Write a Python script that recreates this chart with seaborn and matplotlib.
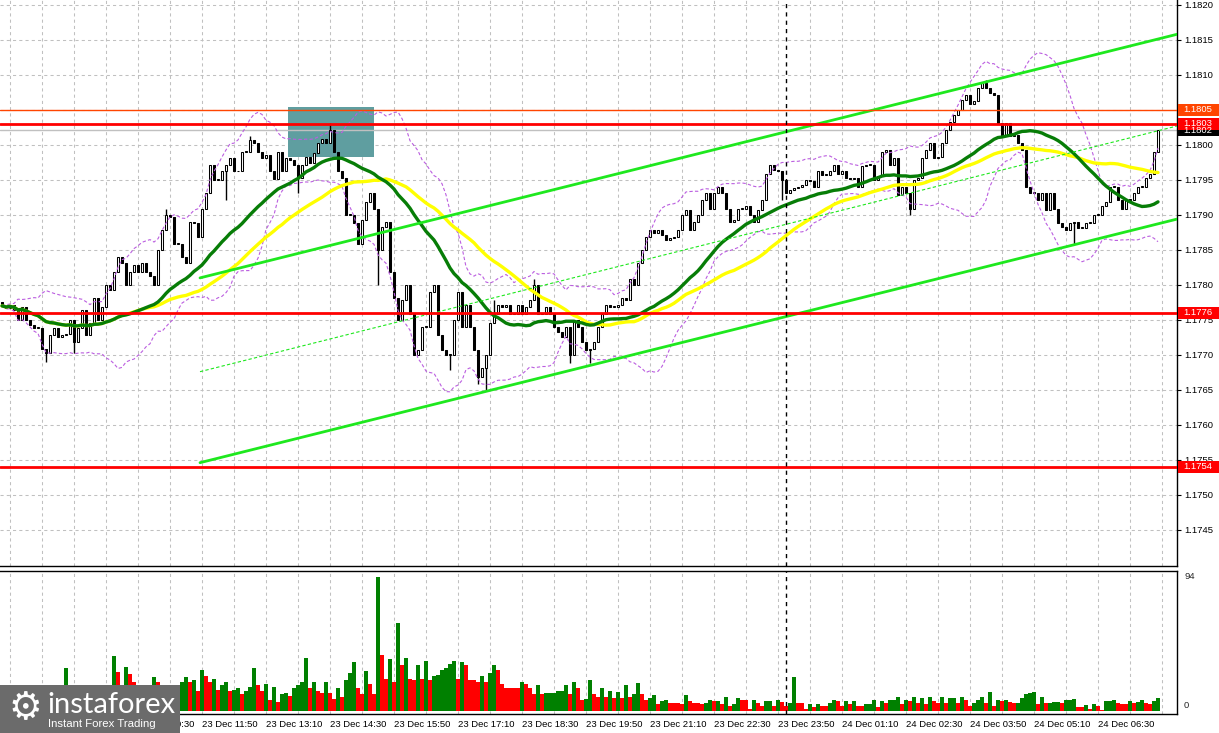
import numpy as np
import pandas as pd
import matplotlib
matplotlib.use("Agg")
import matplotlib.pyplot as plt
from matplotlib.patches import Rectangle
import seaborn as sns

# =========================================================
# STYLE
# =========================================================
sns.set_style("white")
plt.rcParams['font.family'] = ['Liberation Sans', 'DejaVu Sans']

# =========================================================
# DATA  (EUR/USD M5, 23 Dec 07:40 -> 24 Dec 07:45)
# =========================================================
first_open = 1.17775

closes = [
    1.17770, 1.17767, 1.17771, 1.17764, 1.17750, 1.17768, 1.17750, 1.17743, 1.17738, 1.17739,
    1.17709, 1.17702, 1.17729, 1.17738, 1.17726, 1.17728, 1.17730, 1.17750, 1.17719, 1.17739,
    1.17764, 1.17728, 1.17745, 1.17781, 1.17750, 1.17769, 1.17800, 1.17793, 1.17819, 1.17840,
    1.17831, 1.17800, 1.17819, 1.17828, 1.17819, 1.17831, 1.17819, 1.17812, 1.17800, 1.17850,
    1.17878, 1.17900, 1.17897, 1.17859, 1.17859, 1.17840, 1.17831, 1.17890, 1.17888, 1.17869,
    1.17909, 1.17931, 1.17971, 1.17950, 1.17950, 1.17962, 1.17971, 1.17981, 1.17962, 1.17962,
    1.17990, 1.17990, 1.18007, 1.18003, 1.17990, 1.17981, 1.17986, 1.17962, 1.17951, 1.17990,
    1.17962, 1.17981, 1.17978, 1.17971, 1.17952, 1.17971, 1.17983, 1.17974, 1.17988, 1.18002,
    1.18009, 1.18002, 1.18021, 1.17990, 1.17962, 1.17952, 1.17900, 1.17900, 1.17888, 1.17859,
    1.17893, 1.17919, 1.17931, 1.17909, 1.17850, 1.17883, 1.17890, 1.17819, 1.17781, 1.17750,
    1.17778, 1.17800, 1.17759, 1.17700, 1.17707, 1.17740, 1.17740, 1.17790, 1.17800, 1.17728,
    1.17707, 1.17700, 1.17700, 1.17750, 1.17790, 1.17740, 1.17771, 1.17740, 1.17707, 1.17669,
    1.17681, 1.17700, 1.17745, 1.17759, 1.17771, 1.17769, 1.17771, 1.17759, 1.17759, 1.17771,
    1.17759, 1.17769, 1.17778, 1.17800, 1.17759, 1.17759, 1.17769, 1.17759, 1.17740, 1.17733,
    1.17726, 1.17740, 1.17700, 1.17750, 1.17740, 1.17719, 1.17707, 1.17709, 1.17719, 1.17740,
    1.17759, 1.17771, 1.17769, 1.17769, 1.17771, 1.17781, 1.17778, 1.17809, 1.17800, 1.17831,
    1.17850, 1.17869, 1.17878, 1.17874, 1.17878, 1.17871, 1.17864, 1.17867, 1.17869, 1.17878,
    1.17900, 1.17907, 1.17878, 1.17890, 1.17900, 1.17921, 1.17931, 1.17909, 1.17931, 1.17940,
    1.17931, 1.17909, 1.17890, 1.17893, 1.17909, 1.17909, 1.17912, 1.17900, 1.17890, 1.17907,
    1.17921, 1.17959, 1.17971, 1.17964, 1.17962, 1.17950, 1.17931, 1.17936, 1.17938, 1.17940,
    1.17943, 1.17950, 1.17948, 1.17940, 1.17962, 1.17957, 1.17957, 1.17962, 1.17971, 1.17959,
    1.17962, 1.17952, 1.17951, 1.17952, 1.17940, 1.17970, 1.17971, 1.17971, 1.17950, 1.17955,
    1.17990, 1.17993, 1.17971, 1.17981, 1.17928, 1.17940, 1.17931, 1.17909, 1.17950, 1.17952,
    1.17981, 1.17993, 1.18002, 1.17981, 1.17983, 1.18002, 1.18021, 1.18033, 1.18043, 1.18050,
    1.18064, 1.18071, 1.18059, 1.18062, 1.18081, 1.18088, 1.18081, 1.18074, 1.18071, 1.18031,
    1.18012, 1.18031, 1.18012, 1.18014, 1.18002, 1.17993, 1.17940, 1.17931, 1.17931, 1.17921,
    1.17931, 1.17907, 1.17931, 1.17909, 1.17888, 1.17883, 1.17878, 1.17888, 1.17890, 1.17881,
    1.17881, 1.17888, 1.17888, 1.17900, 1.17900, 1.17912, 1.17919, 1.17940, 1.17940, 1.17921,
    1.17909, 1.17921, 1.17921, 1.17931, 1.17940, 1.17940, 1.17952, 1.17959, 1.17990, 1.18021,
]

# long wicks (bar index -> price)
wick_high = {41: 1.17909, 62: 1.18012, 82: 1.18031, 123: 1.17778, 133: 1.17809, 246: 1.18092}
wick_low = {11: 1.17690, 18: 1.17702, 56: 1.17921, 74: 1.17931, 94: 1.17800, 112: 1.17678,
            119: 1.17659, 121: 1.17650, 142: 1.17688, 147: 1.17688, 195: 1.17921,
            227: 1.17900, 268: 1.17859}

volumes = [
    9, 7, 10, 8, 11, 9, 12, 10, 8, 13,
    11, 9, 12, 10, 14, 12, 30.2, 17.9, 17.9, 12,
    17.9, 14, 12, 12, 13, 17.9, 15, 17.9, 38.7, 27.1,
    14, 31.1, 26.2, 20.6, 14, 12, 13, 12, 24.1, 20.0,
    17.9, 17.9, 15, 14, 16, 20.0, 24.1, 20.6, 22.0, 13.7,
    29.0, 24.8, 20.6, 22.7, 14.4, 17.9, 20.0, 13.7, 14.4, 15.8,
    11.6, 13.7, 16.5, 30.4, 17.9, 13.7, 18.6, 7.4, 16.5, 6.0,
    11.6, 12.3, 10.2, 15.8, 17.9, 20.6, 37.4, 15.8, 20.0, 13.7,
    12.3, 20.0, 12.3, 8.1, 15.8, 9.5, 22.0, 26.9, 34.6, 15.8,
    11.6, 28.3, 18.6, 11.6, 94, 39.4, 22.7, 36.7, 20.6, 61.7,
    32.5, 37.4, 22.7, 22.0, 32.5, 22.7, 35.3, 22.0, 24.8, 25.2,
    29.0, 30.4, 33.2, 35.3, 22.7, 34.6, 32.5, 22.0, 22.0, 20.0,
    24.8, 20.0, 26.9, 32.5, 29.0, 18.6, 15.8, 15.8, 15.8, 15.8,
    20.0, 18.6, 15.8, 11.6, 17.9, 11.6, 12.3, 12.5, 12.7, 13.7,
    14.0, 17.9, 11.6, 20.0, 15.8, 7.4, 8.1, 22.0, 11.6, 10.0,
    15.8, 9.7, 13.9, 9.0, 13.2, 9.0, 18.1, 9.7, 11.8, 19.5,
    11.8, 7.7, 9.0, 11.1, 4.9, 7.0, 7.7, 5.6, 5.6, 5.6,
    4.9, 11.1, 7.0, 5.6, 5.6, 4.9, 5.6, 7.7, 7.0, 7.3,
    4.9, 9.7, 3.5, 4.9, 9.0, 7.7, 7.7, 1.4, 7.7, 5.6,
    3.5, 7.0, 7.3, 3.5, 7.7, 6.3, 3.5, 5.6, 23.7, 5.6,
    5.6, 1.4, 4.9, 2.8, 4.9, 3.5, 3.5, 5.6, 7.7, 7.0,
    3.5, 7.0, 4.9, 7.0, 3.5, 3.5, 4.9, 5.2, 7.7, 2.8,
    7.0, 5.6, 7.7, 8.0, 9.7, 4.9, 7.7, 7.0, 9.7, 5.6,
    9.0, 4.9, 9.7, 7.0, 5.6, 9.7, 5.6, 9.0, 9.3, 5.6,
    9.7, 7.7, 3.5, 5.6, 7.7, 9.7, 5.6, 13.2, 3.5, 7.7,
    7.0, 7.7, 6.3, 5.6, 5.9, 9.0, 11.8, 12.5, 13.2, 4.9,
    9.7, 5.6, 5.8, 6.0, 6.2, 5.6, 7.7, 7.9, 8.1, 2.8,
    2.8, 4.2, 1.4, 4.9, 3.5, 0.7, 7.0, 7.2, 7.4, 5.6,
    4.9, 4.9, 7.0, 5.6, 6.3, 7.7, 5.6, 4.9, 7.0, 9.0,
]

# time scale labels (first one sits under the logo)
time_labels = ["23 Dec 10:30", "23 Dec 11:50", "23 Dec 13:10",
               "23 Dec 14:30", "23 Dec 15:50", "23 Dec 17:10", "23 Dec 18:30", "23 Dec 19:50",
               "23 Dec 21:10", "23 Dec 22:30", "23 Dec 23:50", "24 Dec 01:10", "24 Dec 02:30",
               "24 Dec 03:50", "24 Dec 05:10", "24 Dec 06:30"]
first_label_bar = 34

price_ticks = [1.1745, 1.1750, 1.1755, 1.1760, 1.1765, 1.1770, 1.1775, 1.1780,
               1.1785, 1.1790, 1.1795, 1.1800, 1.1805, 1.1810, 1.1815, 1.1820]

red_levels = [1.1803, 1.1776, 1.1754]
orange_level = 1.1805
last_price = 1.18021
separator_bar = 196

# trend channel drawn on the chart (bar, price)
channel_bars = [49.5, 293.75]
channel_upper = [1.17810, 1.18158]
channel_lower = [1.17546, 1.17894]
channel_mid = [1.17676, 1.18027]

# highlighted zone
zone_bars = [71.5, 93.0]
zone_prices = [1.17983, 1.18054]

# =========================================================
# FRAME
# =========================================================
W, H = 1219, 733
fig = plt.figure(figsize=(W / 100, H / 100), dpi=100)
ax = fig.add_axes([0, (H - 566) / H, 1177 / W, 566 / H])
axv = fig.add_axes([0, (H - 714) / H, 1177 / W, (714 - 571) / H])

x_lim = (-0.5, 293.75)

# =========================================================
# CANDLES
# =========================================================
df = pd.DataFrame({'close': closes})
df['open'] = [first_open] + closes[:-1]
df['high'] = df[['open', 'close']].max(axis=1)
df['low'] = df[['open', 'close']].min(axis=1)
for k, v in wick_high.items():
    df.loc[k, 'high'] = max(v, df.loc[k, 'high'])
for k, v in wick_low.items():
    df.loc[k, 'low'] = min(v, df.loc[k, 'low'])

bars = np.arange(len(df))
up = (df['close'] >= df['open']).values
body = (df['close'] - df['open']).abs().clip(lower=0.000012).values
bottom = df[['open', 'close']].min(axis=1).values

ax.vlines(bars, df['low'], df['high'], color='black', lw=1, zorder=3)
ax.bar(bars[up], body[up], bottom=bottom[up], width=0.6, color='white',
       edgecolor='black', linewidth=0.75, zorder=3.1)
ax.bar(bars[~up], body[~up], bottom=bottom[~up], width=0.6, color='black',
       edgecolor='black', linewidth=0.75, zorder=3.1)

# =========================================================
# INDICATORS
# =========================================================
s = df['close']
ma_fast = s.rolling(30, min_periods=1).mean()
ma_slow = s.rolling(50, min_periods=1).mean()
bb_mid = s.rolling(20, min_periods=1).mean()
bb_std = s.rolling(20, min_periods=1).std(ddof=0)

for band in (bb_mid + 2 * bb_std, bb_mid - 2 * bb_std):
    ax.plot(bars, band.values, color='#bb5ee0', lw=0.8, ls=(0, (3, 2)), zorder=4)

sns.lineplot(x=bars, y=ma_slow.values, ax=ax, color='#ffff00', lw=2.4, zorder=4.2)
sns.lineplot(x=bars, y=ma_fast.values, ax=ax, color='#077d07', lw=2.4, zorder=4.3)

# =========================================================
# OBJECTS
# =========================================================
ax.add_patch(Rectangle((zone_bars[0], zone_prices[0]), zone_bars[1] - zone_bars[0],
                       zone_prices[1] - zone_prices[0], fc='#5f9ea0', ec='none', zorder=1.5))

ax.plot(channel_bars, channel_upper, color='#1ee81e', lw=2, zorder=5)
ax.plot(channel_bars, channel_lower, color='#1ee81e', lw=2, zorder=5)
ax.plot(channel_bars, channel_mid, color='#1ee81e', lw=0.8, ls=(0, (3, 2)), zorder=5)

ax.axhline(orange_level, color='#ff4500', lw=1, zorder=5)
ax.axhline(last_price, color='#c0c0c0', lw=1, zorder=2)
for lvl in red_levels:
    ax.axhline(lvl, color='#ff0000', lw=2, zorder=5)

# =========================================================
# VOLUMES
# =========================================================
vol = pd.Series(volumes, dtype=float)
rising = (vol.diff().fillna(0) > 0).values
vol_col = ['#008000' if r else '#ff0000' for r in rising]
axv.bar(bars, vol.values, width=0.8, color=vol_col, linewidth=0, zorder=3)

for a in (ax, axv):
    a.axvline(separator_bar, color='black', lw=1, ls=(0, (3, 3)), zorder=6)

# =========================================================
# GRID / AXES
# =========================================================
grid_kw = dict(color='#c0c0c0', lw=0.75, ls=(0, (3, 3)), zorder=0.5)
for b in range(2, 294, 8):
    ax.axvline(b, **grid_kw)
    axv.axvline(b, **grid_kw)
for p in price_ticks:
    ax.axhline(p, **grid_kw)

ax.set_xlim(*x_lim)
axv.set_xlim(*x_lim)
ax.set_ylim(1.173984, 1.18207)
axv.set_ylim(-2.1, 98.2)

for a in (ax, axv):
    for side in ('left', 'top', 'right', 'bottom'):
        a.spines[side].set_visible(True)
        a.spines[side].set_color('black')
        a.spines[side].set_linewidth(1)
    a.spines['left'].set_visible(False)
ax.spines['top'].set_visible(False)

ax.yaxis.tick_right()
ax.set_yticks(price_ticks)
ax.set_yticklabels([f"{p:.4f}" for p in price_ticks])
ax.tick_params(axis='y', length=3, width=0.8, pad=2, labelsize=6.8, colors='black')
ax.set_xticks([])
ax.set_xlabel('')
ax.set_ylabel('')

tick_bars = [first_label_bar + 16 * k for k in range(len(time_labels))]
axv.set_yticks([])
axv.set_xticks(tick_bars)
axv.set_xticklabels(time_labels)
axv.tick_params(axis='x', length=3, width=0.8, pad=1, labelsize=6.8, colors='black')
for lab in axv.get_xticklabels():
    lab.set_ha('left')
axv.set_xlabel('')
axv.set_ylabel('')

ytr = axv.get_yaxis_transform()
axv.text(1.006, 94, '94', transform=ytr, fontsize=6.8, va='center', ha='left', clip_on=False)
axv.text(1.006, 4.2, '0', transform=ytr, fontsize=6.8, va='center', ha='left', clip_on=False)

# coloured price tags on the right scale
ptr = ax.get_yaxis_transform()


def price_tag(price, text, bg):
    ax.add_patch(Rectangle((1 + 1 / 1177, price - 0.000082), 42 / 1177, 0.000164,
                           transform=ptr, fc=bg, ec='none', clip_on=False, zorder=9))
    ax.text(1 + 6 / 1177, price, text, transform=ptr, fontsize=6.8, color='white',
            va='center', ha='left', clip_on=False, zorder=10)


price_tag(orange_level, f"{orange_level:.4f}", '#ff4500')
price_tag(last_price, f"{last_price:.4f}", '#000000')
for lvl in red_levels:
    price_tag(lvl, f"{lvl:.4f}", '#ff0000')

# =========================================================
# LOGO
# =========================================================
fig.patches.append(Rectangle((0, 0), 180 / W, 48 / H, transform=fig.transFigure,
                             fc='#6b6b6b', ec='none', zorder=20))
fig.text(25 / W, (H - 709) / H, '\u2699', family='DejaVu Sans', fontsize=27,
         color='white', ha='center', va='center', zorder=21)
fig.text(47 / W, (H - 713) / H, 'instaforex', family='Lato', fontsize=21,
         color='white', ha='left', va='baseline', zorder=21)
fig.text(48 / W, (H - 727) / H, 'Instant Forex Trading', fontsize=8.2,
         color='white', ha='left', va='baseline', zorder=21)

fig.savefig('out.png', dpi=100)
plt.close(fig)
